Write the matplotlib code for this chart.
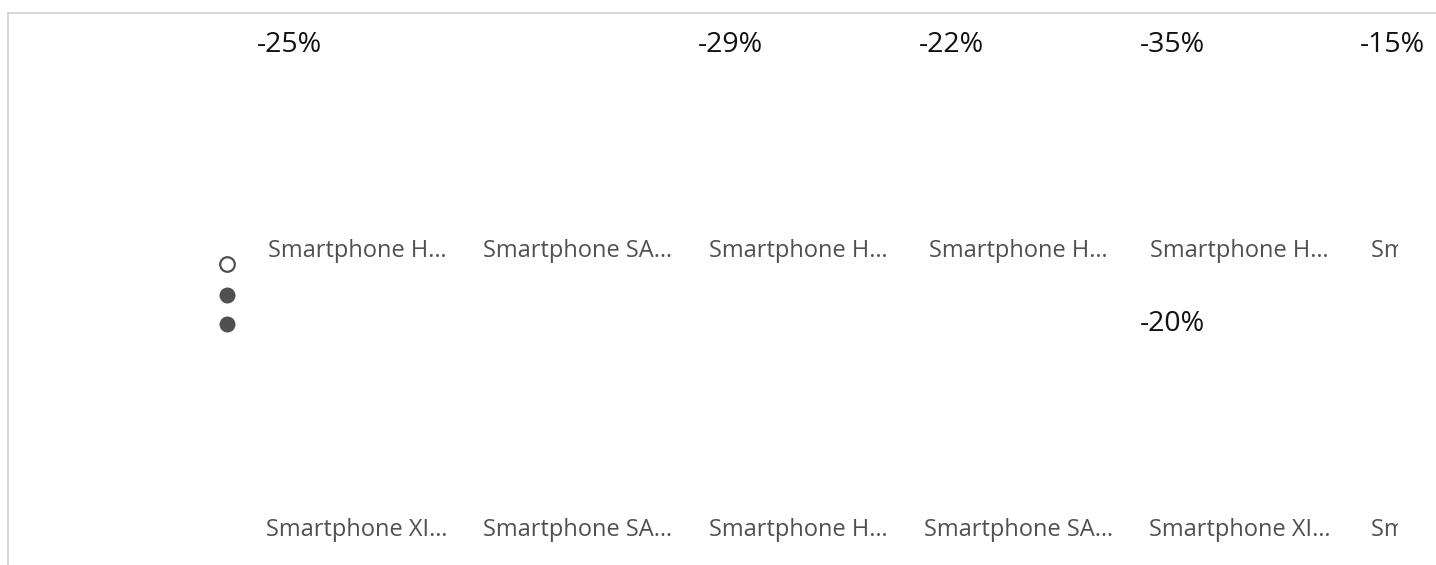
import matplotlib
matplotlib.use("Agg")
import matplotlib.pyplot as plt
from matplotlib.transforms import Bbox, TransformedBbox

plt.rcParams['font.family'] = ['Open Sans', 'DejaVu Sans']

top_categories = ["Smartphone H…", "Smartphone SA…", "Smartphone H…", "Smartphone H…", "Smartphone H…", "Smartphone H…"]
bottom_categories = ["Smartphone XI…", "Smartphone SA…", "Smartphone H…", "Smartphone SA…", "Smartphone XI…", "Smartphone H…"]
top_change = ["-25%", "", "-29%", "-22%", "-35%", "-15%"]
bottom_change = ["", "", "", "", "-20%", ""]

W, H = 1436, 565
fig = plt.figure(figsize=(W / 100, H / 100), dpi=100)
ax = fig.add_axes([8 / W, 0, (W - 8) / W, (H - 13) / H])
col_w = 220.6
ax.set_xlim((8 - 357) / col_w, (W - 357) / col_w)
row_h = 279
row0 = 251
ax.set_ylim(-(565 - row0) / row_h, -(13 - row0) / row_h)
ax.set_xticks([]); ax.set_yticks([])
for s in ["right", "bottom"]:
    ax.spines[s].set_visible(False)
for s in ["top", "left"]:
    ax.spines[s].set_color("#d0d0d0")
    ax.spines[s].set_linewidth(1.2)

clip = TransformedBbox(Bbox([[0, 0], [(1398 - 8) / (W - 8), 1]]), ax.transAxes)
label_color = "#505050"
for r, (cats, chg) in enumerate([(top_categories, top_change), (bottom_categories, bottom_change)]):
    for i, (c, p) in enumerate(zip(cats, chg)):
        t = ax.text(i, -r, c, ha="center", va="center", fontsize=17, color=label_color)
        t.set_clip_box(clip); t.set_clip_on(True)
        if p:
            ax.annotate(p, (i, -r), xytext=(-100 * 0.72, 206 * 0.72), textcoords="offset points",
                        ha="left", va="center", fontsize=20.5, color="#111111",
                        annotation_clip=False)

# legend markers
leg_y = [264, 295, 324]
for k, yy in enumerate(leg_y):
    ax.plot([(227 - 357) / col_w], [-(yy - row0) / row_h], marker="o", markersize=11.5 if k else 10.5,
            markerfacecolor="white" if k == 0 else "#505050", markeredgecolor="#505050",
            markeredgewidth=1.6 if k == 0 else 0, linestyle="none", clip_on=False)

fig.savefig("out.png", dpi=100)
